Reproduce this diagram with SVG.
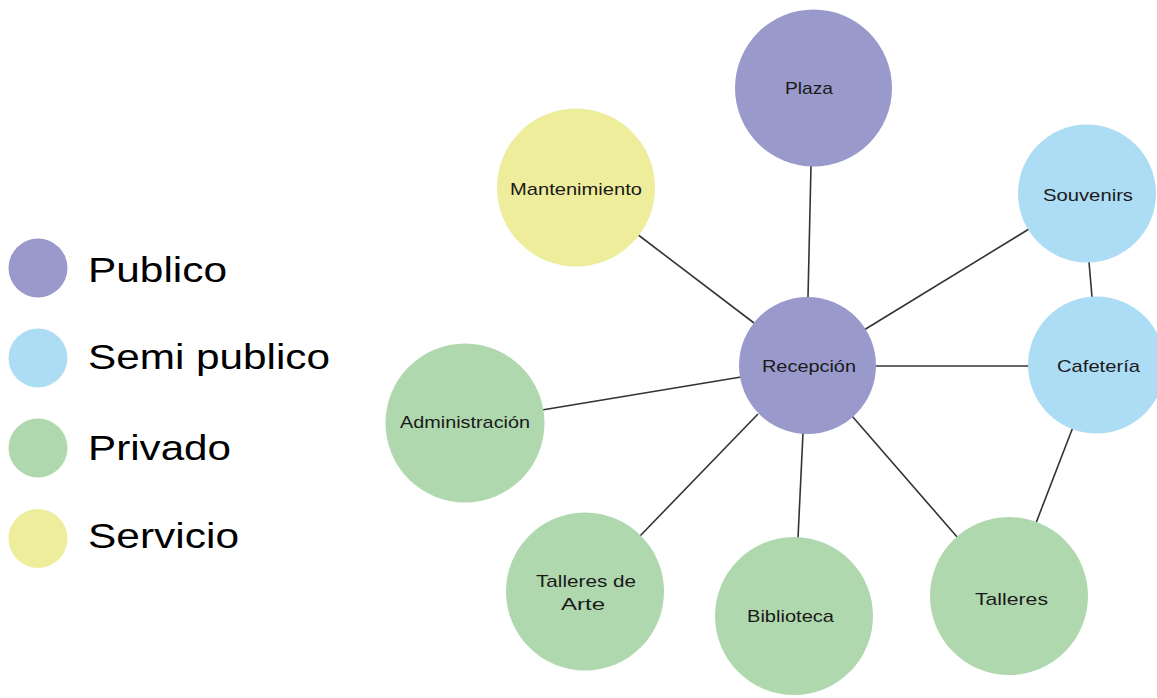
<svg xmlns="http://www.w3.org/2000/svg" width="1157" height="698" viewBox="0 0 1157 698">
<style>
.pub{fill:#9999CC}
.semi{fill:#ADDCF5}
.priv{fill:#B0D8AE}
.serv{fill:#EDED9B}
.lbl{font-family:"Liberation Sans",Arial,sans-serif;font-size:17px;fill:#1a1a1a;text-anchor:start}
.leg{font-family:"Liberation Sans",Arial,sans-serif;font-size:35px;fill:#000}
#connectors line{stroke:#333;stroke-width:1.6}
</style>
<rect width="1157" height="698" fill="#fff"/>
<g id="legend">
<g id="legend-publico"><circle class="pub" cx="38" cy="268" r="29.5"/><text class="leg" x="88" y="282" textLength="139" lengthAdjust="spacingAndGlyphs">Publico</text></g>
<g id="legend-semi"><circle class="semi" cx="38" cy="358" r="29.5"/><text class="leg" x="88" y="369" textLength="242" lengthAdjust="spacingAndGlyphs">Semi publico</text></g>
<g id="legend-privado"><circle class="priv" cx="38" cy="448" r="29.5"/><text class="leg" x="88" y="460" textLength="143" lengthAdjust="spacingAndGlyphs">Privado</text></g>
<g id="legend-servicio"><circle class="serv" cx="38" cy="538.5" r="29.5"/><text class="leg" x="88" y="548" textLength="151" lengthAdjust="spacingAndGlyphs">Servicio</text></g>
</g>
<g id="connectors">
<line x1="811" y1="166" x2="808" y2="297"/>
<line x1="637" y1="234" x2="754" y2="323"/>
<line x1="1029" y1="229" x2="864" y2="330"/>
<line x1="1089" y1="262" x2="1092" y2="297"/>
<line x1="876" y1="366" x2="1029" y2="366"/>
<line x1="1073" y1="427" x2="1036" y2="523"/>
<line x1="741" y1="377" x2="542" y2="410"/>
<line x1="758" y1="414" x2="640" y2="536"/>
<line x1="803" y1="433" x2="798" y2="538"/>
<line x1="852" y1="416" x2="958" y2="538"/>
</g>
<g id="plaza"><circle class="pub" cx="813.5" cy="88" r="78.5"/><text class="lbl" x="785" y="94" textLength="48" lengthAdjust="spacingAndGlyphs">Plaza</text></g>
<g id="mantenimiento"><circle class="serv" cx="576" cy="187.5" r="79"/><text class="lbl" x="510" y="195" textLength="132" lengthAdjust="spacingAndGlyphs">Mantenimiento</text></g>
<g id="souvenirs"><circle class="semi" cx="1087" cy="193.5" r="69"/><text class="lbl" x="1043" y="201" textLength="90" lengthAdjust="spacingAndGlyphs">Souvenirs</text></g>
<g id="cafeteria"><circle class="semi" cx="1096.5" cy="365" r="68.5"/><text class="lbl" x="1057" y="372" textLength="83" lengthAdjust="spacingAndGlyphs">Cafetería</text></g>
<g id="recepcion"><circle class="pub" cx="807.5" cy="365.5" r="68.5"/><text class="lbl" x="762" y="372" textLength="94" lengthAdjust="spacingAndGlyphs">Recepción</text></g>
<g id="administracion"><circle class="priv" cx="465" cy="423" r="79.5"/><text class="lbl" x="400" y="428" textLength="130" lengthAdjust="spacingAndGlyphs">Administración</text></g>
<g id="talleres-arte"><circle class="priv" cx="585" cy="591.5" r="79"/><text class="lbl" x="536" y="587" textLength="100" lengthAdjust="spacingAndGlyphs">Talleres de</text><text class="lbl" x="561" y="610" textLength="44" lengthAdjust="spacingAndGlyphs">Arte</text></g>
<g id="biblioteca"><circle class="priv" cx="794" cy="616" r="79"/><text class="lbl" x="747" y="622" textLength="87" lengthAdjust="spacingAndGlyphs">Biblioteca</text></g>
<g id="talleres"><circle class="priv" cx="1009" cy="596" r="79"/><text class="lbl" x="975" y="605" textLength="73" lengthAdjust="spacingAndGlyphs">Talleres</text></g>
</svg>
